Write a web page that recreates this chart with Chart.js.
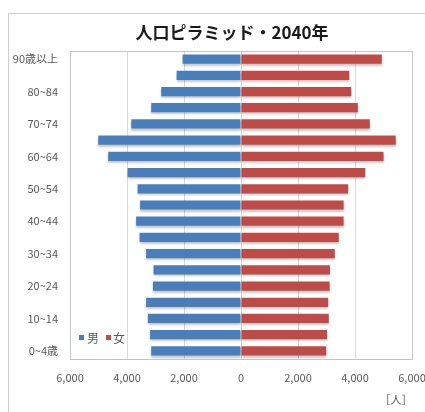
<!DOCTYPE html>
<html>
<head>
<meta charset="utf-8">
<script src="https://cdn.jsdelivr.net/npm/chart.js@4"></script>
<style>
  html, body { margin: 0; padding: 0; background: #fff; }
  canvas { display: block; }
</style>
</head>
<body>
<canvas id="pyramid" width="425" height="412"></canvas>
<script>
// age groups, top to bottom
const ageGroups = ['90歳以上', '85~89', '80~84', '75~79', '70~74', '65~69', '60~64', '55~59',
  '50~54', '45~49', '40~44', '35~39', '30~34', '25~29', '20~24', '15~19', '10~14', '5~9', '0~4歳'];
// population (人)
const male = [2050, 2260, 2800, 3150, 3850, 5010, 4660, 3980, 3630, 3540, 3680, 3560, 3330, 3070, 3090, 3330, 3270, 3190, 3150];
const female = [4940, 3800, 3870, 4100, 4520, 5430, 5000, 4360, 3760, 3600, 3600, 3430, 3290, 3120, 3110, 3060, 3080, 3020, 2990];
const xTicks = [-6000, -4000, -2000, 0, 2000, 4000, 6000];

const TITLE = '人口ピラミッド・2040年';
const FONT = '"Noto Sans CJK JP", "Noto Sans", sans-serif';
const BLUE = '#4a7ebb';
const RED = '#be4b48';

// frame, title, legend and unit label
const decor = {
  id: 'decor',
  beforeDraw(chart) {
    const ctx = chart.ctx;
    ctx.save();
    ctx.strokeStyle = '#cfcfcf';
    ctx.lineWidth = 1;
    ctx.beginPath();
    ctx.moveTo(8.5, 412);
    ctx.lineTo(8.5, 13.5);
    ctx.lineTo(425, 13.5);
    ctx.stroke();
    ctx.restore();
  },
  beforeDatasetDraw(chart) {
    const ctx = chart.ctx;
    ctx.save();
    ctx.shadowColor = 'rgba(0,0,0,0.22)';
    ctx.shadowOffsetY = 2;
    ctx.shadowBlur = 2;
  },
  afterDatasetDraw(chart) {
    chart.ctx.restore();
  },
  afterDraw(chart) {
    const ctx = chart.ctx;
    const a = chart.chartArea;
    ctx.save();
    ctx.strokeStyle = '#c4c4c4';
    ctx.lineWidth = 1;
    ctx.strokeRect(a.left + 0.5, a.top + 0.5, a.right - a.left, a.bottom - a.top);

    ctx.fillStyle = '#1a1a1a';
    ctx.font = 'bold 17px ' + FONT;
    ctx.textAlign = 'center';
    ctx.textBaseline = 'middle';
    ctx.fillText(TITLE, 232, 33);

    // legend
    ctx.font = '12px ' + FONT;
    ctx.textAlign = 'left';
    ctx.fillStyle = BLUE;
    ctx.fillRect(79, 335, 5, 5);
    ctx.fillStyle = '#595959';
    ctx.fillText('男', 87, 338);
    ctx.fillStyle = RED;
    ctx.fillRect(106, 335, 5, 5);
    ctx.fillStyle = '#595959';
    ctx.fillText('女', 113, 338);

    ctx.font = '11px ' + FONT;
    ctx.textAlign = 'center';
    ctx.fillText('［人］', 396, 400);
    ctx.restore();
  }
};

new Chart(document.getElementById('pyramid'), {
  type: 'bar',
  data: {
    labels: ageGroups,
    datasets: [
      { label: '男', data: male.map(v => -v), backgroundColor: BLUE, barPercentage: 0.95, categoryPercentage: 0.6 },
      { label: '女', data: female, backgroundColor: RED, barPercentage: 0.95, categoryPercentage: 0.6 }
    ]
  },
  options: {
    indexAxis: 'y',
    responsive: false,
    animation: false,
    devicePixelRatio: 1,
    layout: { padding: { left: 8, right: 13, top: 51, bottom: 0 } },
    plugins: {
      legend: { display: false },
      tooltip: { enabled: false }
    },
    scales: {
      x: {
        stacked: true,
        min: -6000,
        max: 6000,
        afterBuildTicks(scale) {
          scale.ticks = xTicks.map(v => ({ value: v }));
        },
        afterFit(scale) {
          scale.height = 53;
          scale.paddingLeft = 0;
          scale.paddingRight = 0;
        },
        grid: { color: '#d9d9d9', drawTicks: false },
        border: { display: false },
        ticks: {
          padding: 12,
          color: '#595959',
          font: { family: FONT, size: 11 },
          callback: v => Math.abs(v).toLocaleString('en-US')
        }
      },
      y: {
        stacked: true,
        afterFit(scale) { scale.width = 62; },
        grid: { display: false, drawTicks: false },
        border: { display: false },
        ticks: {
          autoSkip: false,
          padding: 12,
          color: '#595959',
          font: { family: FONT, size: 11 },
          callback: (v, i) => (i % 2 === 0 ? ageGroups[i] : '')
        }
      }
    }
  },
  plugins: [decor]
});
</script>
</body>
</html>
